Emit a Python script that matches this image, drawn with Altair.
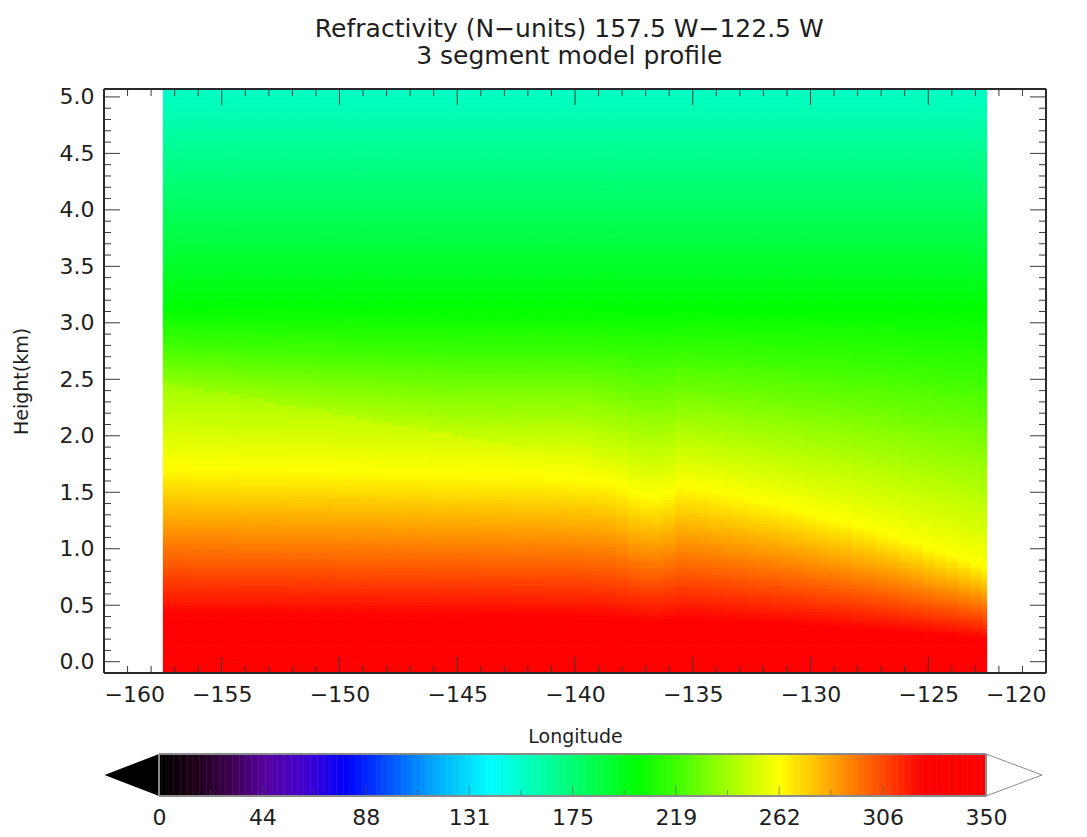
import altair as alt
import numpy as np
import pandas as pd

alt.data_transformers.disable_max_rows()

# ---------------- data ----------------
# column longitudes (0.5 deg grid, 157.5W .. 122.5W)
lon_cols = [round(-157.5 + 0.5 * i, 2) for i in range(71)]

# height (km) of the sharp yellow layer (top of segment 1) per column
h1_cols = [1.72, 1.72, 1.72, 1.71, 1.71, 1.71, 1.71, 1.70, 1.70, 1.70, 1.70, 1.69,
           1.69, 1.69, 1.69, 1.68, 1.68, 1.68, 1.68, 1.67, 1.67, 1.67, 1.67, 1.66,
           1.66, 1.66, 1.66, 1.65, 1.65, 1.65, 1.64, 1.64, 1.64, 1.63, 1.63, 1.62,
           1.61, 1.60, 1.59, 1.55, 1.50, 1.47, 1.46, 1.50, 1.56,
           1.55, 1.53, 1.51, 1.49, 1.47, 1.44, 1.42, 1.40, 1.37, 1.35, 1.32, 1.29,
           1.27, 1.24, 1.21, 1.18, 1.15, 1.12, 1.08, 1.05, 1.01, 0.98, 0.95, 0.91,
           0.87, 0.83]

# height (km) of the upper kink (top of segment 2), visible west of ~139.5W
h2_cols = [2.47, 2.45, 2.43, 2.41, 2.39, 2.38, 2.36, 2.34, 2.32, 2.30, 2.28, 2.26,
           2.25, 2.23, 2.21, 2.19, 2.17, 2.15, 2.13, 2.11, 2.10, 2.08, 2.06, 2.04,
           2.02, 2.00, 1.98, 1.97, 1.95, 1.93, 1.91, 1.89, 1.87, 1.85, 1.83, 1.81,
           1.79]

# refractivity values at the profile nodes (N-units)
N_surface = 342.0
N_layer = 262.0
seg2_gradient = 30.0      # N-units per km inside segment 2
jump_at_h2 = 3.5          # small step in N at the top of segment 2
h_upper, N_upper = 3.15, 201.0
h_top, N_top = 5.07, 153.0

# colour table (value -> colour)
cmap_values = [0, 15, 30, 44, 60, 79, 100, 120, 140, 155, 175, 202, 219, 240,
               262, 284, 306, 323, 350]
cmap_colors = ["#000000", "#200018", "#3c0050", "#56009c", "#4400cc", "#0000ff",
               "#0060ff", "#00b8ff", "#00ffff", "#00ffc0", "#00ff70", "#00ff00",
               "#40ff00", "#a0ff00", "#ffff00", "#ffa500", "#ff4800", "#ff0000",
               "#ff0000"]

cbar_tick_values = [0, 43.75, 87.5, 131.25, 175, 218.75, 262.5, 306.25, 350]
cbar_tick_labels = ["0", "44", "88", "131", "175", "219", "262", "306", "350"]

x_ticks = list(range(-160, -119))
y_ticks = [round(0.1 * i, 1) for i in range(51)]

title_lines = ["Refractivity (N\u2212units) 157.5 W\u2212122.5 W",
               "3 segment model profile"]

# ---------------- build the grid through the 3-segment model ----------------
XD = [-160, -120]
YD = [-0.1, 5.07]
dh = 0.03
row_bottoms = np.arange(YD[0], YD[1] - 1e-9, dh)

recs = []
for i, lon in enumerate(lon_cols):
    h1 = h1_cols[i]
    if i < len(h2_cols):
        h2 = h2_cols[i]
        jump = jump_at_h2 * min(1.0, (len(h2_cols) - 1 - i) / 10.0)
    else:
        h2 = h1
        jump = 0.0
    N2 = N_layer - seg2_gradient * (h2 - h1)
    nodes_h = [0.0, h1, h2, h2 + 1e-4, h_upper, h_top]
    nodes_N = [N_surface, N_layer, N2, N2 - jump, N_upper, N_top]
    x0 = max(lon - 0.25, -157.5)
    x1 = min(lon + 0.25 + 0.04, -122.5)
    for b in row_bottoms:
        t = min(b + dh + 0.006, YD[1])
        hc = b + dh / 2
        N = float(np.interp(hc, nodes_h, nodes_N))
        recs.append((x0, x1, round(float(b), 4), round(float(t), 4), round(N, 2)))

grid = pd.DataFrame(recs, columns=["x0", "x1", "y0", "y1", "N"])

W, H = 942, 584
FONT = "DejaVu Sans"
TXT = "#1e1e1e"
TICK = "#3a3a3a"

color_scale = alt.Scale(domain=cmap_values, range=cmap_colors, interpolate="rgb")
xs = alt.Scale(domain=XD, nice=False, zero=False)
ys = alt.Scale(domain=YD, nice=False, zero=False)

x_axis = alt.Axis(values=list(range(-160, -119, 5)), format="d", title="Longitude",
                  ticks=False, tickSize=0, domain=False, grid=False,
                  labelPadding=11, titlePadding=22)
y_axis = alt.Axis(values=[round(0.5 * k, 1) for k in range(11)], format=".1f",
                  title="Height(km)", ticks=False, tickSize=0, domain=False,
                  grid=False, labelPadding=10, titlePadding=28)

heat = alt.Chart(grid).mark_rect(strokeWidth=0).encode(
    x=alt.X("x0:Q", scale=xs, axis=x_axis),
    x2="x1:Q",
    y=alt.Y("y0:Q", scale=ys, axis=y_axis),
    y2="y1:Q",
    color=alt.Color("N:Q", scale=color_scale, legend=None),
)

xt = pd.DataFrame({"v": x_ticks})
xt["major"] = xt["v"] % 5 == 0
yt = pd.DataFrame({"v": y_ticks})
yt["major"] = [(round(v * 10) % 5 == 0) for v in y_ticks]

MAJ, MIN = 16, 7


def xrule(major, bottom):
    ln = MAJ if major else MIN
    y_a = H if bottom else 0
    y_b = H - ln if bottom else ln
    return alt.Chart(xt).transform_filter(
        alt.datum.major == major
    ).mark_rule(color=TICK, strokeWidth=1).encode(
        x=alt.X("v:Q", scale=xs, axis=x_axis),
        y=alt.value(y_a), y2=alt.value(y_b))


def yrule(major, left):
    ln = MAJ if major else MIN
    x_a = 0 if left else W
    x_b = ln if left else W - ln
    return alt.Chart(yt).transform_filter(
        alt.datum.major == major
    ).mark_rule(color=TICK, strokeWidth=1).encode(
        y=alt.Y("v:Q", scale=ys, axis=y_axis),
        x=alt.value(x_a), x2=alt.value(x_b))


frame = alt.Chart(xt).mark_rect(fill=None, stroke="#2a2a2a", strokeWidth=1).encode(
    x=alt.value(0), x2=alt.value(W), y=alt.value(0), y2=alt.value(H))

main = alt.layer(
    heat,
    xrule(True, True), xrule(False, True), xrule(True, False), xrule(False, False),
    yrule(True, True), yrule(False, True), yrule(True, False), yrule(False, False),
    frame,
).properties(width=W, height=H)

# ---------------- colour bar ----------------
CB_H = 42
px = 350.0 / 827.0
CD = [-55 * px, 350 + 60 * px]
cs = alt.Scale(domain=CD, nice=False, zero=False)
cys = alt.Scale(domain=[0, 1], nice=False, zero=False)

cb = pd.DataFrame({"v": np.arange(0, 350, 1.0)})
cb["v2"] = np.minimum(cb["v"] + 1.2, 350)

label_expr = "[" + ",".join("'%s'" % s for s in cbar_tick_labels) + "][round(datum.index*8)]"
cb_axis = alt.Axis(values=cbar_tick_values, labelExpr=label_expr, ticks=False,
                   tickSize=0, domain=False, grid=False, labelPadding=11, title=None)

cbar_rect = alt.Chart(cb).mark_rect(strokeWidth=0).encode(
    x=alt.X("v:Q", scale=cs, axis=cb_axis),
    x2="v2:Q",
    y=alt.value(0), y2=alt.value(CB_H),
    color=alt.Color("v:Q", scale=color_scale, legend=None),
)

tip_l = CD[0] + 0.5 * px
tip_r = 350 + 56 * px
left_tri = pd.DataFrame({"x": [tip_l, 0.0], "y": [0.5, 1.0], "y2": [0.5, 0.0]})
right_tri = pd.DataFrame({"x": [350.0, tip_r], "y": [1.0, 0.5], "y2": [0.0, 0.5]})

ltri = alt.Chart(left_tri).mark_area(color="#000000").encode(
    x=alt.X("x:Q", scale=cs, axis=cb_axis),
    y=alt.Y("y:Q", scale=cys, axis=None), y2="y2:Q")
rtri = alt.Chart(right_tri).mark_area(fill="#ffffff", stroke="#8a8a8a",
                                       strokeWidth=1).encode(
    x=alt.X("x:Q", scale=cs, axis=cb_axis),
    y=alt.Y("y:Q", scale=cys, axis=None), y2="y2:Q")

cbt = pd.DataFrame({"v": [21.875 * k for k in range(17)]})
cbt["major"] = [k % 2 == 0 for k in range(17)]
cb_ticks_major = alt.Chart(cbt).transform_filter(alt.datum.major == True).mark_rule(
    color="#555555", strokeWidth=1, opacity=0.6).encode(
    x=alt.X("v:Q", scale=cs, axis=cb_axis), y=alt.value(CB_H), y2=alt.value(CB_H - 10))
cb_ticks_minor = alt.Chart(cbt).transform_filter(alt.datum.major == False).mark_rule(
    color="#555555", strokeWidth=1, opacity=0.6).encode(
    x=alt.X("v:Q", scale=cs, axis=cb_axis), y=alt.value(CB_H), y2=alt.value(CB_H - 6))

cb_frame = alt.Chart(cbt).mark_rect(fill=None, stroke="#8a8a8a", strokeWidth=1).encode(
    x=alt.datum(0, scale=cs, axis=cb_axis), x2=alt.datum(350),
    y=alt.value(0), y2=alt.value(CB_H))

cbar = alt.layer(cbar_rect, ltri, rtri, cb_ticks_major, cb_ticks_minor,
                 cb_frame).properties(width=W, height=CB_H)

chart = alt.vconcat(main, cbar, spacing=6).properties(
    title=alt.TitleParams(title_lines, anchor="middle", fontSize=25, font=FONT,
                          fontWeight="normal", color=TXT, lineHeight=27, offset=17,
                          dx=40),
    padding={"left": 12, "top": 16, "right": 8, "bottom": 8},
).configure_view(stroke=None).configure_axis(
    labelFont=FONT, labelFontSize=22, labelColor=TXT,
    titleFont=FONT, titleFontSize=19, titleFontWeight="normal", titleColor=TXT,
)

chart.save("out.html", embed_options={"renderer": "svg", "actions": False})
